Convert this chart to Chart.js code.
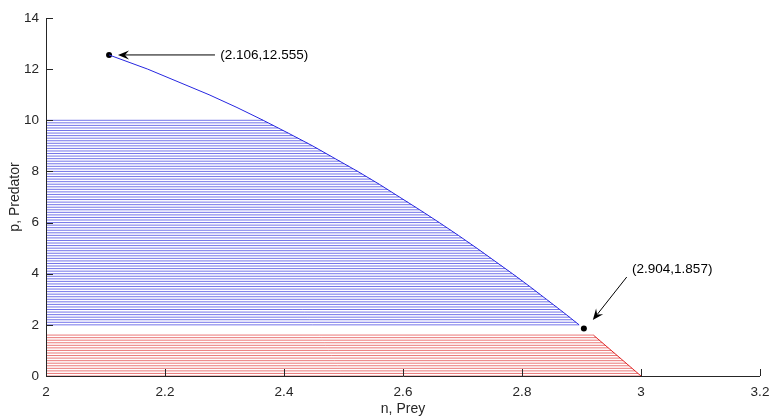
<!DOCTYPE html>
<html>
<head>
<meta charset="utf-8">
<title>Predator-prey region</title>
<script src="https://cdn.jsdelivr.net/npm/chart.js@4.4.1/dist/chart.umd.min.js"></script>
<style>
    html, body { margin: 0; padding: 0; background: #ffffff; }
    #wrap { width: 770px; height: 418px; }
</style>
</head>
<body>
<div id="wrap"><canvas id="chart" width="770" height="418"></canvas></div>
<script>
// ============================================================
// DATA
// ============================================================
const xTicks = [2, 2.2, 2.4, 2.6, 2.8, 3, 3.2];
const xTickLabels = ['2', '2.2', '2.4', '2.6', '2.8', '3', '3.2'];
const yTicks = [0, 2, 4, 6, 8, 10, 12, 14];
const yTickLabels = ['0', '2', '4', '6', '8', '10', '12', '14'];

// blue boundary curve (n, p)
const curveN = [2.106, 2.171, 2.274, 2.321, 2.365, 2.407, 2.448, 2.486, 2.524, 2.560, 2.594,
                2.628, 2.661, 2.693, 2.724, 2.754, 2.784, 2.813, 2.841, 2.869, 2.896];
const curveP = [12.555, 12, 11, 10.5, 10, 9.5, 9, 8.5, 8, 7.5, 7,
                6.5, 6, 5.5, 5, 4.5, 4, 3.5, 3, 2.5, 2];

// blue hatch: level p and right end n (left end is n = 2)
const blueLevels = [2.0, 2.1, 2.2, 2.3, 2.4, 2.5, 2.6, 2.7, 2.8, 2.9,
                    3.0, 3.1, 3.2, 3.3, 3.4, 3.5, 3.6, 3.7, 3.8, 3.9,
                    4.0, 4.1, 4.2, 4.3, 4.4, 4.5, 4.6, 4.7, 4.8, 4.9,
                    5.0, 5.1, 5.2, 5.3, 5.4, 5.5, 5.6, 5.7, 5.8, 5.9,
                    6.0, 6.1, 6.2, 6.3, 6.4, 6.5, 6.6, 6.7, 6.8, 6.9,
                    7.0, 7.1, 7.2, 7.3, 7.4, 7.5, 7.6, 7.7, 7.8, 7.9,
                    8.0, 8.1, 8.2, 8.3, 8.4, 8.5, 8.6, 8.7, 8.8, 8.9,
                    9.0, 9.1, 9.2, 9.3, 9.4, 9.5, 9.6, 9.7, 9.8, 9.9, 10.0];
const blueEnds = [2.896, 2.891, 2.885, 2.880, 2.874, 2.869, 2.863, 2.858, 2.852, 2.847,
                  2.841, 2.835, 2.830, 2.824, 2.819, 2.813, 2.807, 2.801, 2.796, 2.790,
                  2.784, 2.778, 2.772, 2.766, 2.760, 2.754, 2.748, 2.742, 2.736, 2.730,
                  2.724, 2.718, 2.712, 2.705, 2.699, 2.693, 2.687, 2.680, 2.674, 2.667,
                  2.661, 2.654, 2.648, 2.641, 2.635, 2.628, 2.621, 2.614, 2.608, 2.601,
                  2.594, 2.587, 2.580, 2.574, 2.567, 2.560, 2.553, 2.546, 2.538, 2.531,
                  2.524, 2.516, 2.509, 2.501, 2.494, 2.486, 2.478, 2.471, 2.463, 2.456,
                  2.448, 2.440, 2.432, 2.423, 2.415, 2.407, 2.399, 2.390, 2.382, 2.373, 2.365];

// red hatch
const redLevels = [0.0, 0.1, 0.2, 0.3, 0.4, 0.5, 0.6, 0.7, 0.8, 0.9,
                   1.0, 1.1, 1.2, 1.3, 1.4, 1.5, 1.6];
const redEnds = [3.000, 2.995, 2.990, 2.985, 2.980, 2.975, 2.970, 2.965, 2.960, 2.955,
                 2.950, 2.945, 2.940, 2.935, 2.930, 2.925, 2.920];
const redEdgeN = [2.92, 3.0];
const redEdgeP = [1.6, 0];

// marked points and their labels
const markN = [2.106, 2.904];
const markP = [12.555, 1.857];
const markLabels = ['(2.106,12.555)', '(2.904,1.857)'];
// arrow tail (near label) and head (near point), data units
const arrowFromN = [2.284, 2.976];
const arrowFromP = [12.555, 3.87];
const arrowToN = [2.121, 2.919];
const arrowToP = [12.555, 2.19];
const labelN = [2.293, 2.985];
const labelP = [12.555, 4.18];

// ============================================================
// HELPERS
// ============================================================
const AXIS_COLOR = '#262626';
const FONT = '"Liberation Sans", Arial, Helvetica, sans-serif';

function hatchData(levels, ends) {
    var pts = [];
    levels.forEach(function (lv, i) {
        pts.push({ x: 2, y: lv });
        pts.push({ x: ends[i], y: lv });
        pts.push({ x: ends[i], y: null });
    });
    return pts;
}

function zip(xs, ys) {
    return xs.map(function (x, i) { return { x: x, y: ys[i] }; });
}

function drawArrow(ctx, x1, y1, x2, y2) {
    var ang = Math.atan2(y2 - y1, x2 - x1);
    var len = 11, half = 4.5, back = 7;
    ctx.beginPath();
    ctx.moveTo(x1, y1);
    ctx.lineTo(x2 - Math.cos(ang) * back, y2 - Math.sin(ang) * back);
    ctx.stroke();
    ctx.beginPath();
    ctx.moveTo(x2, y2);
    ctx.lineTo(x2 - Math.cos(ang) * len - Math.sin(ang) * half, y2 - Math.sin(ang) * len + Math.cos(ang) * half);
    ctx.lineTo(x2 - Math.cos(ang) * back, y2 - Math.sin(ang) * back);
    ctx.lineTo(x2 - Math.cos(ang) * len + Math.sin(ang) * half, y2 - Math.sin(ang) * len - Math.cos(ang) * half);
    ctx.closePath();
    ctx.fill();
}

// inward ticks, axis titles, arrows and point labels
const decorations = {
    id: 'decorations',
    afterDatasetsDraw: function (chart) {
        var ctx = chart.ctx;
        var xs = chart.scales.x, ys = chart.scales.y;
        var area = chart.chartArea;
        ctx.save();

        // axis lines + inward ticks
        ctx.strokeStyle = AXIS_COLOR;
        ctx.lineWidth = 1;
        ctx.beginPath();
        ctx.moveTo(area.left + 0.5, area.top);
        ctx.lineTo(area.left + 0.5, area.bottom + 0.5);
        ctx.lineTo(area.right, area.bottom + 0.5);
        xTicks.forEach(function (v) {
            var px = Math.round(xs.getPixelForValue(v)) + 0.5;
            ctx.moveTo(px, area.bottom);
            ctx.lineTo(px, area.bottom - 7);
        });
        yTicks.forEach(function (v) {
            var py = Math.round(ys.getPixelForValue(v)) + 0.5;
            ctx.moveTo(area.left, py);
            ctx.lineTo(area.left + 7, py);
        });
        ctx.stroke();

        // axis titles
        ctx.fillStyle = AXIS_COLOR;
        ctx.font = '14px ' + FONT;
        ctx.textAlign = 'center';
        ctx.textBaseline = 'middle';
        ctx.fillText('n, Prey', (area.left + area.right) / 2, 409);
        ctx.save();
        ctx.translate(15, (area.top + area.bottom) / 2);
        ctx.rotate(-Math.PI / 2);
        ctx.fillText('p, Predator', 0, 0);
        ctx.restore();

        // arrows and labels
        ctx.strokeStyle = '#000000';
        ctx.fillStyle = '#000000';
        ctx.lineWidth = 1;
        for (var i = 0; i < markN.length; i++) {
            drawArrow(ctx,
                xs.getPixelForValue(arrowFromN[i]), ys.getPixelForValue(arrowFromP[i]),
                xs.getPixelForValue(arrowToN[i]), ys.getPixelForValue(arrowToP[i]));
        }
        ctx.font = '13.5px ' + FONT;
        ctx.textAlign = 'left';
        ctx.textBaseline = 'middle';
        ctx.fillStyle = '#000000';
        for (var j = 0; j < markLabels.length; j++) {
            ctx.fillText(markLabels[j], xs.getPixelForValue(labelN[j]), ys.getPixelForValue(labelP[j]));
        }
        ctx.restore();
    }
};

// ============================================================
// CHART
// ============================================================
new Chart(document.getElementById('chart'), {
    type: 'line',
    data: {
        datasets: [
            {
                label: 'blue hatch',
                data: hatchData(blueLevels, blueEnds),
                borderColor: 'rgba(30, 30, 220, 0.62)',
                borderWidth: 1,
                pointRadius: 0,
                spanGaps: false,
                tension: 0
            },
            {
                label: 'red hatch',
                data: hatchData(redLevels, redEnds),
                borderColor: 'rgba(220, 30, 30, 0.6)',
                borderWidth: 1,
                pointRadius: 0,
                spanGaps: false,
                tension: 0
            },
            {
                label: 'blue boundary',
                data: zip(curveN, curveP),
                borderColor: '#2626e0',
                borderWidth: 1,
                pointRadius: 0,
                tension: 0
            },
            {
                label: 'red boundary',
                data: zip(redEdgeN, redEdgeP),
                borderColor: '#e02626',
                borderWidth: 1,
                pointRadius: 0,
                tension: 0
            },
            {
                label: 'marks',
                data: zip(markN, markP),
                showLine: false,
                pointRadius: 3,
                pointBackgroundColor: '#000000',
                pointBorderColor: '#000000',
                pointBorderWidth: 0
            }
        ]
    },
    options: {
        responsive: false,
        animation: false,
        events: [],
        layout: { padding: { top: 18, right: 10, left: 0, bottom: 0 } },
        plugins: {
            legend: { display: false },
            tooltip: { enabled: false }
        },
        scales: {
            x: {
                type: 'linear',
                min: 2,
                max: 3.2,
                afterBuildTicks: function (scale) {
                    scale.ticks = xTicks.map(function (v) { return { value: v }; });
                },
                afterFit: function (scale) {
                    scale.height = 42;
                    scale.paddingLeft = 0;
                    scale.paddingRight = 0;
                },
                grid: { display: false, drawTicks: false },
                border: { display: false },
                ticks: {
                    padding: 8,
                    maxRotation: 0,
                    color: AXIS_COLOR,
                    font: { size: 13.5, family: FONT },
                    callback: function (v) {
                        var k = xTicks.indexOf(v);
                        return k >= 0 ? xTickLabels[k] : '';
                    }
                }
            },
            y: {
                type: 'linear',
                min: 0,
                max: 14,
                afterBuildTicks: function (scale) {
                    scale.ticks = yTicks.map(function (v) { return { value: v }; });
                },
                afterFit: function (scale) {
                    scale.width = 46;
                    scale.paddingTop = 0;
                    scale.paddingBottom = 0;
                },
                grid: { display: false, drawTicks: false },
                border: { display: false },
                ticks: {
                    padding: 7,
                    color: AXIS_COLOR,
                    font: { size: 13.5, family: FONT },
                    callback: function (v) {
                        var k = yTicks.indexOf(v);
                        return k >= 0 ? yTickLabels[k] : '';
                    }
                }
            }
        }
    },
    plugins: [decorations]
});
</script>
</body>
</html>
